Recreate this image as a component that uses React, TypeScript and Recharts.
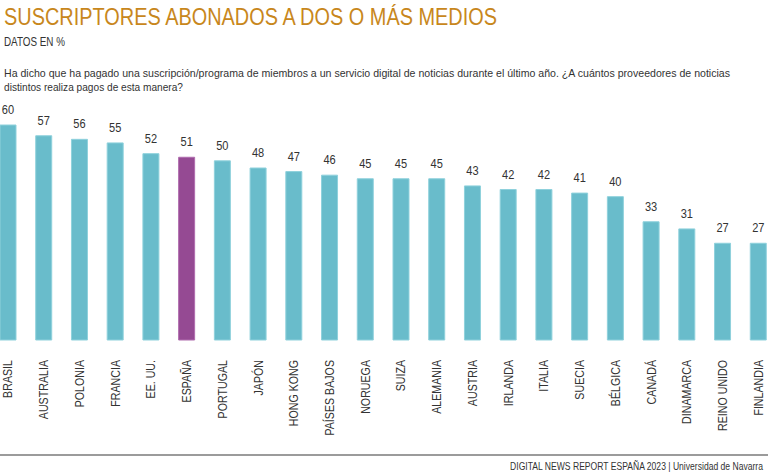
import React from 'react';
import { BarChart, Bar, XAxis, YAxis, Cell, LabelList } from 'recharts';

const countries = ['BRASIL', 'AUSTRALIA', 'POLONIA', 'FRANCIA', 'EE. UU.', 'ESPAÑA', 'PORTUGAL', 'JAPÓN', 'HONG KONG', 'PAÍSES BAJOS', 'NORUEGA', 'SUIZA', 'ALEMANIA', 'AUSTRIA', 'IRLANDA', 'ITALIA', 'SUECIA', 'BÉLGICA', 'CANADÁ', 'DINAMARCA', 'REINO UNIDO', 'FINLANDIA'];
const values = [60, 57, 56, 55, 52, 51, 50, 48, 47, 46, 45, 45, 45, 43, 42, 42, 41, 40, 33, 31, 27, 27];
const highlight = 'ESPAÑA';

const title = 'SUSCRIPTORES ABONADOS A DOS O MÁS MEDIOS';
const subtitle = 'DATOS EN %';
const questionLines = [
  'Ha dicho que ha pagado una suscripción/programa de miembros a un servicio digital de noticias durante el último año. ¿A cuántos proveedores de noticias',
  'distintos realiza pagos de esta manera?',
];
const footer = 'DIGITAL NEWS REPORT ESPAÑA 2023 | Universidad de Navarra';

const data = countries.map((c, i) => ({ name: c, value: values[i] }));

const FONT = '"Liberation Sans", Arial, sans-serif';
const TEAL = '#69bccb';
const PURPLE = '#954a93';
const TEXT = '#333333';

const Tick = (props: any) => {
  const { x, y, payload } = props;
  return (
    <g transform={`translate(${x}, ${y}) rotate(-90) scale(0.82, 1)`}>
      <text x={0} y={0} textAnchor="end" dy="0.35em" fontFamily={FONT} fontSize={13} fill={TEXT}>
        {payload.value}
      </text>
    </g>
  );
};

const ValueLabel = (props: any) => {
  const { x, y, width, value } = props;
  const cx = Number(x) + Number(width) / 2;
  const cy = Number(y) - 11;
  return (
    <g transform={`translate(${cx}, ${cy}) scale(0.85, 1)`}>
      <text x={0} y={0} textAnchor="middle" fontFamily={FONT} fontSize={13} fill={TEXT}>
        {value}
      </text>
    </g>
  );
};

export default function App() {
  return (
    <div style={{ position: 'absolute', left: 0, top: 0, width: 768, height: 476, overflow: 'hidden', background: '#fff' }}>
      <div style={{ position: 'absolute', left: -10, top: 0 }}>
        <BarChart width={786} height={476} data={data} margin={{ top: 125, right: 0, left: 0, bottom: 0 }}>
          <XAxis
            dataKey="name"
            height={136}
            axisLine={false}
            tickLine={false}
            tickSize={0}
            tickMargin={20}
            interval={0}
            tick={<Tick />}
          />
          <YAxis hide domain={[0, 60]} />
          <Bar dataKey="value" barSize={16} isAnimationActive={false} strokeWidth={1}>
            {data.map((d) => (
              <Cell
                key={d.name}
                fill={d.name === highlight ? PURPLE : TEAL}
                stroke={d.name === highlight ? '#b06cae' : '#8fd1dc'}
              />
            ))}
            <LabelList dataKey="value" content={<ValueLabel />} />
          </Bar>
        </BarChart>
      </div>
      <svg width={768} height={476} style={{ position: 'absolute', left: 0, top: 0, pointerEvents: 'none' }}>
        <text x={4} y={25} fontFamily={FONT} fontSize={24} fill="#c8871c" textLength={493} lengthAdjust="spacingAndGlyphs">{title}</text>
        <text x={4} y={46} fontFamily={FONT} fontSize={12} fill={TEXT} textLength={61} lengthAdjust="spacingAndGlyphs">{subtitle}</text>
        <text x={4} y={77} fontFamily={FONT} fontSize={11} fill={TEXT} textLength={726} lengthAdjust="spacingAndGlyphs">{questionLines[0]}</text>
        <text x={4} y={91} fontFamily={FONT} fontSize={11} fill={TEXT} textLength={179} lengthAdjust="spacingAndGlyphs">{questionLines[1]}</text>
        <line x1={0} x2={768} y1={455} y2={455} stroke="#7a7a7a" strokeWidth={1.5} />
        <g transform="translate(763, 470) scale(0.78, 1)">
          <text x={0} y={0} textAnchor="end" fontFamily={FONT} fontSize={11} fill={TEXT}>{footer}</text>
        </g>
      </svg>
    </div>
  );
}
